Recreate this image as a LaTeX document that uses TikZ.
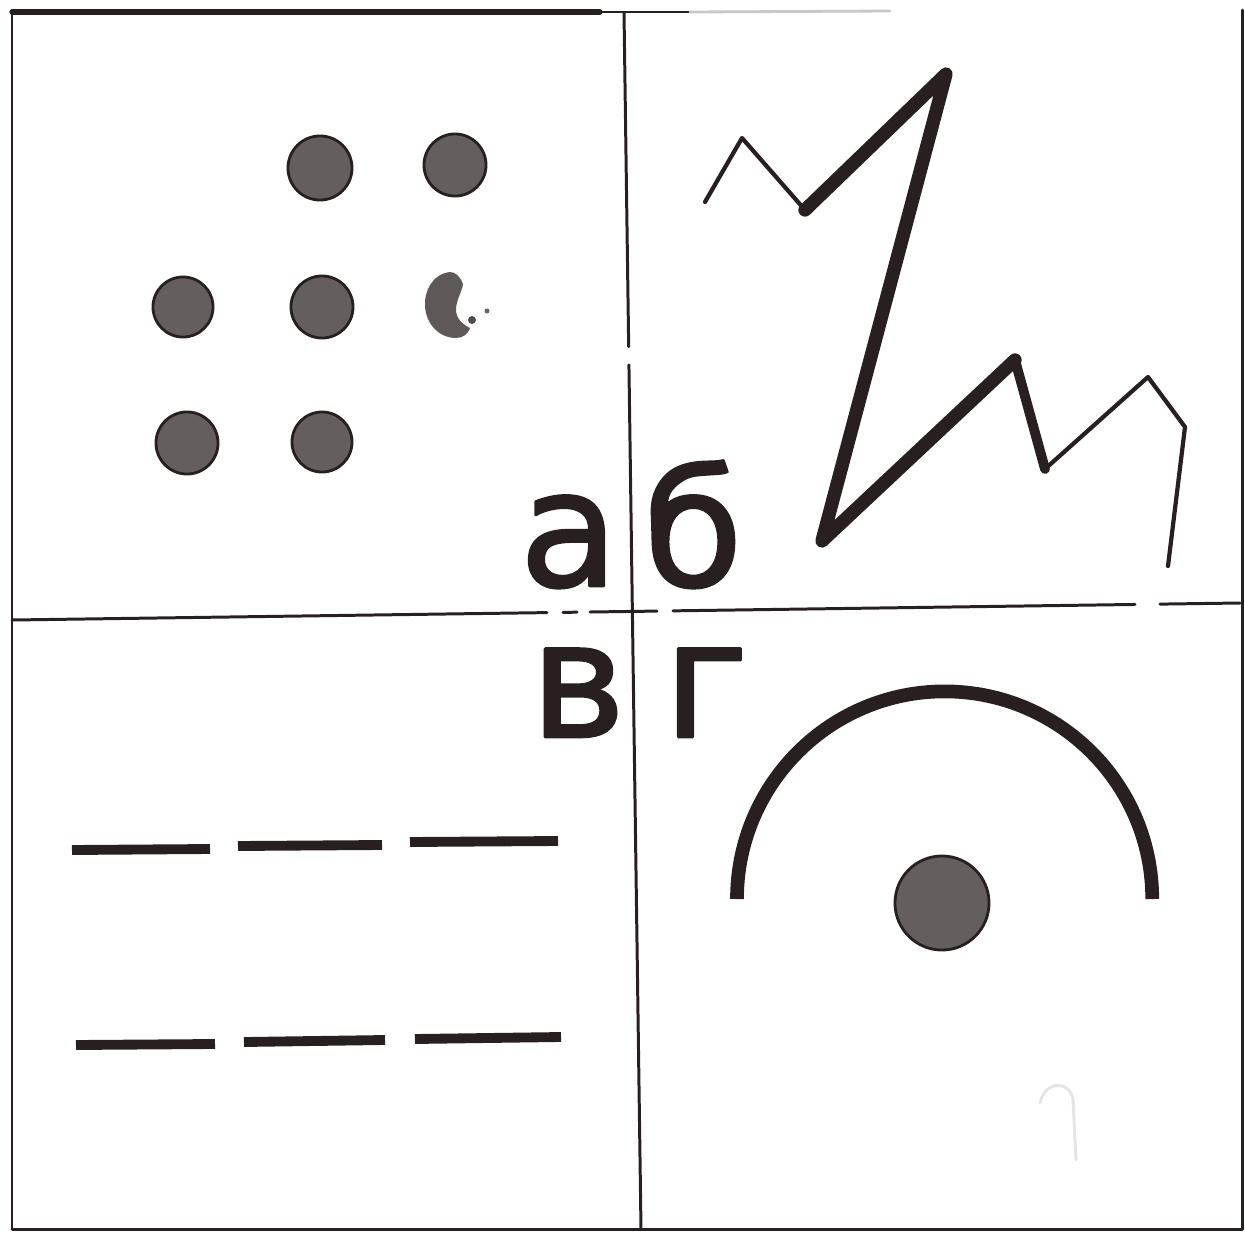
\documentclass[tikz,border=0pt]{standalone}
\usepackage{fontspec}
\newfontface\lblfont{DejaVu Sans}[FakeBold=1.6]
\usetikzlibrary{calc}
\definecolor{ink}{RGB}{40,32,32}
\begin{document}
\begin{tikzpicture}[x=0.01cm,y=-0.01cm,line cap=round,line join=round,
  frame/.style={draw=ink,line width=0.85pt},
  thinzig/.style={draw=ink,line width=1.2pt},
  thickzig/.style={draw=ink,line width=3.8pt},
  spot/.style={fill=ink!72,draw=ink,line width=0.8pt},
  letter/.style={font=\lblfont\fontsize{46}{46}\selectfont,text=ink,inner sep=0pt,anchor=base},
  dashseg/.style={draw=ink,line width=2.8pt,line cap=butt}]
\useasboundingbox (0,0) rectangle (1245,1233);
\fill[white] (0,0) rectangle (1245,1233);

% outer frame
\coordinate (TL) at (12,12);
\coordinate (TR) at (1242,10);
\coordinate (BR) at (1242,1229);
\coordinate (BL) at (12,1229);
\draw[frame] (TL) -- (BL) -- (BR) -- (TR);
\draw[ink,line width=1.5pt] (TL) -- (600,12);
\draw[frame] (600,12) -- (690,12);
\draw[ink!25,line width=0.8pt] (690,12) -- (890,11);

% vertical divider
\coordinate (VT) at (624,12);
\coordinate (VB) at (641,1229);
\draw[frame] (VT) -- ($(VT)!0.275!(VB)$);
\draw[frame] ($(VT)!0.29!(VB)$) -- (VB);

% horizontal divider
\coordinate (HL) at (12,620);
\coordinate (HR) at (1240,603);
\draw[frame] (HL) -- ($(HL)!0.4357!(HR)$);
\draw[frame] ($(HL)!0.4487!(HR)$) -- ($(HL)!0.4601!(HR)$);
\draw[frame] ($(HL)!0.4707!(HR)$) -- ($(HL)!0.5252!(HR)$);
\draw[frame] ($(HL)!0.5383!(HR)$) -- ($(HL)!0.9145!(HR)$);
\draw[frame] ($(HL)!0.9349!(HR)$) -- (HR);

% labels
\node[letter] (la) at (569,586) {а};
\node[letter] (lb) at (693,586) {б};
\node[letter] (lv) at (578,737) {в};
\node[letter] (lg) at (706,737) {г};

% quadrant a: dots
\draw[spot] (320,168) circle[radius=0.32cm];
\draw[spot] (455,165) circle[radius=0.31cm];
\draw[spot] (183,307) circle[radius=0.30cm];
\draw[spot] (322,307) circle[radius=0.31cm];
\draw[spot] (187,443) circle[radius=0.31cm];
\draw[spot] (322,442) circle[radius=0.30cm];
\fill[ink!75] (450,272) .. controls (432,274) and (424,292) .. (425,306)
  .. controls (426,325) and (440,338) .. (456,338)
  .. controls (463,338) and (468,334) .. (470,328)
  .. controls (462,324) and (456,318) .. (456,310)
  .. controls (456,300) and (462,292) .. (463,284)
  .. controls (460,276) and (455,272) .. (450,272) -- cycle;
\fill[ink!80] (472,320) circle[radius=0.04cm];
\fill[ink!70] (487,311) circle[radius=0.025cm];

% quadrant b: zigzag
\coordinate (z1) at (705,202);
\coordinate (z2) at (742,138);
\coordinate (z3) at (805,210);
\coordinate (z4) at (946,74);
\coordinate (z5) at (822,541);
\coordinate (z6) at (1015,360);
\coordinate (z7) at (1045,469);
\coordinate (z8) at (1148,377);
\coordinate (z9) at (1185,427);
\coordinate (z10) at (1168,566);
\draw[thinzig] (z1) -- (z2) -- (z3);
\draw[thickzig] (z3) -- (z4) -- (z5) -- (z6);
\draw[draw=ink,line width=2.8pt] (z6) -- (z7);
\draw[thinzig] (z7) -- (z8) -- (z9) -- (z10);

% quadrant v: dashes
\draw[dashseg] (72,850) -- (210,849);
\draw[dashseg] (238,846) -- (382,845);
\draw[dashseg] (410,842) -- (558,841);
\draw[dashseg] (76,1045) -- (215,1044);
\draw[dashseg] (244,1042) -- (385,1040);
\draw[dashseg] (415,1039) -- (561,1037);

% quadrant g: arc and dot
\draw[ink,line width=3.9pt,line cap=butt] (737,899) arc[start angle=180,end angle=0,radius=2.075cm];
\draw[spot] (942,903) circle[radius=0.47cm];

% faint mark
\draw[ink!12,line width=0.8pt] (1040,1103) .. controls (1045,1080) and (1070,1080) .. (1073,1100) -- (1076,1160);
\end{tikzpicture}
\end{document}
